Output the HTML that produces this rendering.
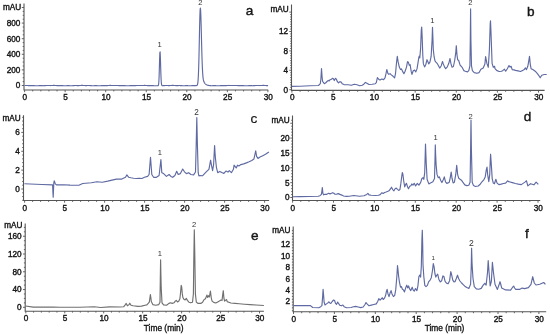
<!DOCTYPE html>
<html><head><meta charset="utf-8"><style>
html,body{margin:0;padding:0;background:#fff;}
svg{display:block;}
text{font-family:"Liberation Sans", sans-serif;fill:#151515;stroke:#151515;stroke-width:0.38px;}
text.L{stroke-width:0.4px;}
text.T{stroke-width:0.35px;}
text.P{fill:#333;stroke:none;}
svg{will-change:transform;}
</style></head><body>
<svg width="550" height="335" viewBox="0 0 550 335">
<rect width="550" height="335" fill="#fff"/>
<path d="M24 3.5V90H268.2" fill="none" stroke="#555" stroke-width="1.1"/>
<path d="M21.8 85.5h2.2M22.7 81.6h1.3M22.7 77.7h1.3M22.7 73.8h1.3M21.8 69.9h2.2M22.7 66h1.3M22.7 62.1h1.3M22.7 58.2h1.3M21.8 54.3h2.2M22.7 50.4h1.3M22.7 46.5h1.3M22.7 42.6h1.3M21.8 38.7h2.2M22.7 34.8h1.3M22.7 30.9h1.3M22.7 27h1.3M21.8 23.1h2.2M22.7 19.2h1.3M22.7 15.3h1.3M22.7 11.4h1.3M21.8 7.5h2.2M24.6 90v2.2M32.71 90v1.4M40.82 90v1.4M48.93 90v1.4M57.04 90v1.4M65.15 90v2.2M73.26 90v1.4M81.37 90v1.4M89.48 90v1.4M97.59 90v1.4M105.7 90v2.2M113.81 90v1.4M121.92 90v1.4M130.03 90v1.4M138.14 90v1.4M146.25 90v2.2M154.36 90v1.4M162.47 90v1.4M170.58 90v1.4M178.69 90v1.4M186.8 90v2.2M194.91 90v1.4M203.02 90v1.4M211.13 90v1.4M219.24 90v1.4M227.35 90v2.2M235.46 90v1.4M243.57 90v1.4M251.68 90v1.4M259.79 90v1.4M267.9 90v2.2" stroke="#555" stroke-width="0.9" fill="none"/>
<text x="20.4" y="88.4" text-anchor="end" font-size="8.2">0</text>
<text x="20.4" y="72.8" text-anchor="end" font-size="8.2">200</text>
<text x="20.4" y="57.2" text-anchor="end" font-size="8.2">400</text>
<text x="20.4" y="41.6" text-anchor="end" font-size="8.2">600</text>
<text x="20.4" y="26" text-anchor="end" font-size="8.2">800</text>
<text x="21.2" y="10.3" text-anchor="end" font-size="8.2">mAU</text>
<text x="24.9" y="100.2" text-anchor="middle" font-size="8.2">0</text>
<text x="65.45" y="100.2" text-anchor="middle" font-size="8.2">5</text>
<text x="106" y="100.2" text-anchor="middle" font-size="8.2">10</text>
<text x="146.55" y="100.2" text-anchor="middle" font-size="8.2">15</text>
<text x="187.1" y="100.2" text-anchor="middle" font-size="8.2">20</text>
<text x="227.65" y="100.2" text-anchor="middle" font-size="8.2">25</text>
<text x="268.2" y="100.2" text-anchor="middle" font-size="8.2">30</text>
<text x="249.5" y="14.7" text-anchor="middle" font-size="13.6" class="L" style="stroke-width:0.4px">a</text>
<text x="159.6" y="47.04" text-anchor="middle" font-size="7.6" class="P">1</text>
<text x="200.3" y="5.04" text-anchor="middle" font-size="7.6" class="P">2</text>
<polyline points="24.6,85.48 24.85,85.47 25.1,85.46 25.35,85.46 25.6,85.45 25.85,85.45 26.1,85.45 26.35,85.46 26.6,85.47 26.85,85.48 27.1,85.49 27.35,85.51 27.6,85.53 27.85,85.55 28.1,85.56 28.35,85.58 28.6,85.6 28.85,85.62 29.1,85.63 29.35,85.64 29.6,85.65 29.85,85.66 30.1,85.66 30.35,85.66 30.6,85.66 30.85,85.65 31.1,85.65 31.35,85.64 31.6,85.63 31.85,85.62 32.1,85.62 32.35,85.61 32.6,85.61 32.85,85.61 33.1,85.61 33.35,85.62 33.6,85.63 33.85,85.64 34.1,85.65 34.35,85.67 34.6,85.68 34.85,85.7 35.1,85.72 35.35,85.73 35.6,85.75 35.85,85.76 36.1,85.77 36.35,85.77 36.6,85.78 36.85,85.78 37.1,85.77 37.35,85.77 37.6,85.76 37.85,85.75 38.1,85.73 38.35,85.72 38.6,85.71 38.85,85.69 39.1,85.68 39.35,85.66 39.6,85.65 39.85,85.65 40.1,85.64 40.35,85.64 40.6,85.64 40.85,85.64 41.1,85.65 41.35,85.65 41.6,85.66 41.85,85.67 42.1,85.68 42.35,85.69 42.6,85.69 42.85,85.7 43.1,85.7 43.35,85.7 43.6,85.69 43.85,85.68 44.1,85.67 44.35,85.66 44.6,85.65 44.85,85.63 45.1,85.61 45.35,85.59 45.6,85.57 45.85,85.55 46.1,85.53 46.35,85.52 46.6,85.5 46.85,85.49 47.1,85.49 47.35,85.48 47.6,85.48 47.85,85.48 48.1,85.49 48.35,85.49 48.6,85.5 48.85,85.51 49.1,85.52 49.35,85.53 49.6,85.54 49.85,85.54 50.1,85.55 50.35,85.55 50.6,85.55 50.85,85.54 51.1,85.54 51.35,85.53 51.6,85.52 51.85,85.51 52.1,85.49 52.35,85.48 52.6,85.47 52.85,85.46 53.1,85.44 53.35,85.44 53.6,85.43 53.85,85.43 54.1,85.43 54.35,85.43 54.6,85.44 54.85,85.45 55.1,85.46 55.35,85.48 55.6,85.49 55.85,85.51 56.1,85.53 56.35,85.55 56.6,85.56 56.85,85.58 57.1,85.59 57.35,85.6 57.6,85.61 57.85,85.61 58.1,85.61 58.35,85.61 58.6,85.61 58.85,85.6 59.1,85.59 59.35,85.59 59.6,85.58 59.85,85.57 60.1,85.57 60.35,85.57 60.6,85.56 60.85,85.57 61.1,85.57 61.35,85.58 61.6,85.59 61.85,85.6 62.1,85.62 62.35,85.64 62.6,85.65 62.85,85.67 63.1,85.69 63.35,85.71 63.6,85.72 63.85,85.74 64.1,85.75 64.35,85.76 64.6,85.76 64.85,85.76 65.1,85.76 65.35,85.76 65.6,85.75 65.85,85.74 66.1,85.73 66.35,85.72 66.6,85.7 66.85,85.69 67.1,85.68 67.35,85.67 67.6,85.67 67.85,85.66 68.1,85.66 68.35,85.66 68.6,85.66 68.85,85.67 69.1,85.68 69.35,85.68 69.6,85.7 69.85,85.71 70.1,85.72 70.35,85.72 70.6,85.73 70.85,85.74 71.1,85.74 71.35,85.74 71.6,85.73 71.85,85.73 72.1,85.72 72.35,85.7 72.6,85.69 72.85,85.67 73.1,85.65 73.35,85.63 73.6,85.61 73.85,85.6 74.1,85.58 74.35,85.56 74.6,85.55 74.85,85.54 75.1,85.53 75.35,85.53 75.6,85.53 75.85,85.53 76.1,85.53 76.35,85.54 76.6,85.55 76.85,85.55 77.1,85.56 77.35,85.57 77.6,85.57 77.85,85.58 78.1,85.58 78.35,85.58 78.6,85.57 78.85,85.57 79.1,85.56 79.35,85.55 79.6,85.53 79.85,85.52 80.1,85.5 80.35,85.49 80.6,85.47 80.85,85.46 81.1,85.44 81.35,85.43 81.6,85.43 81.85,85.42 82.1,85.42 82.35,85.42 82.6,85.43 82.85,85.44 83.1,85.45 83.35,85.46 83.6,85.48 83.85,85.49 84.1,85.51 84.35,85.52 84.6,85.53 84.85,85.55 85.1,85.56 85.35,85.56 85.6,85.57 85.85,85.57 86.1,85.57 86.35,85.57 86.6,85.56 86.85,85.55 87.1,85.55 87.35,85.54 87.6,85.53 87.85,85.52 88.1,85.52 88.35,85.52 88.6,85.52 88.85,85.52 89.1,85.52 89.35,85.53 89.6,85.54 89.85,85.56 90.1,85.58 90.35,85.59 90.6,85.61 90.85,85.63 91.1,85.65 91.35,85.67 91.6,85.69 91.85,85.7 92.1,85.71 92.35,85.72 92.6,85.73 92.85,85.73 93.1,85.73 93.35,85.73 93.6,85.72 93.85,85.71 94.1,85.7 94.35,85.69 94.6,85.68 94.85,85.67 95.1,85.67 95.35,85.66 95.6,85.66 95.85,85.66 96.1,85.66 96.35,85.66 96.6,85.67 96.85,85.68 97.1,85.69 97.35,85.7 97.6,85.71 97.85,85.73 98.1,85.74 98.35,85.75 98.6,85.76 98.85,85.76 99.1,85.77 99.35,85.77 99.6,85.77 99.85,85.76 100.1,85.75 100.35,85.74 100.6,85.72 100.85,85.71 101.1,85.69 101.35,85.67 101.6,85.65 101.85,85.64 102.1,85.62 102.35,85.61 102.6,85.6 102.85,85.59 103.1,85.58 103.35,85.58 103.6,85.58 103.85,85.58 104.1,85.58 104.35,85.59 104.6,85.6 104.85,85.6 105.1,85.61 105.35,85.62 105.6,85.62 105.85,85.62 106.1,85.62 106.35,85.62 106.6,85.61 106.85,85.6 107.1,85.59 107.35,85.58 107.6,85.56 107.85,85.55 108.1,85.53 108.35,85.51 108.6,85.49 108.85,85.48 109.1,85.46 109.35,85.45 109.6,85.44 109.85,85.43 110.1,85.43 110.35,85.43 110.6,85.44 110.85,85.44 111.1,85.45 111.35,85.46 111.6,85.48 111.85,85.49 112.1,85.5 112.35,85.51 112.6,85.52 112.85,85.53 113.1,85.54 113.35,85.54 113.6,85.54 113.85,85.54 114.1,85.54 114.35,85.53 114.6,85.53 114.85,85.52 115.1,85.51 115.35,85.5 115.6,85.49 115.85,85.48 116.1,85.47 116.35,85.47 116.6,85.47 116.85,85.47 117.1,85.48 117.35,85.49 117.6,85.5 117.85,85.51 118.1,85.53 118.35,85.55 118.6,85.57 118.85,85.59 119.1,85.61 119.35,85.63 119.6,85.64 119.85,85.66 120.1,85.67 120.35,85.68 120.6,85.68 120.85,85.68 121.1,85.68 121.35,85.68 121.6,85.68 121.85,85.67 122.1,85.66 122.35,85.65 122.6,85.65 122.85,85.64 123.1,85.63 123.35,85.63 123.6,85.63 123.85,85.63 124.1,85.64 124.35,85.64 124.6,85.65 124.85,85.67 125.1,85.68 125.35,85.69 125.6,85.71 125.85,85.73 126.1,85.74 126.35,85.75 126.6,85.76 126.85,85.77 127.1,85.78 127.35,85.78 127.6,85.78 127.85,85.77 128.1,85.77 128.35,85.76 128.6,85.74 128.85,85.73 129.1,85.71 129.35,85.7 129.6,85.68 129.85,85.67 130.1,85.65 130.35,85.64 130.6,85.63 130.85,85.63 131.1,85.62 131.35,85.62 131.6,85.62 131.85,85.63 132.1,85.63 132.35,85.64 132.6,85.65 132.85,85.66 133.1,85.66 133.35,85.67 133.6,85.67 133.85,85.67 134.1,85.67 134.35,85.67 134.6,85.66 134.85,85.65 135.1,85.64 135.35,85.62 135.6,85.6 135.85,85.59 136.1,85.57 136.35,85.55 136.6,85.53 136.85,85.51 137.1,85.49 137.35,85.48 137.6,85.47 137.85,85.47 138.1,85.46 138.35,85.46 138.6,85.46 138.85,85.47 139.1,85.48 139.35,85.48 139.6,85.49 139.85,85.51 140.1,85.52 140.35,85.52 140.6,85.53 140.85,85.54 141.1,85.54 141.35,85.54 141.6,85.54 141.85,85.53 142.1,85.53 142.35,85.52 142.6,85.51 142.85,85.5 143.1,85.48 143.35,85.47 143.6,85.46 143.85,85.45 144.1,85.44 144.35,85.44 144.6,85.44 144.85,85.44 145.1,85.44 145.35,85.45 145.6,85.46 145.85,85.48 146.1,85.49 146.35,85.51 146.6,85.53 146.85,85.55 147.1,85.57 147.35,85.58 147.6,85.6 147.85,85.61 148.1,85.62 148.35,85.63 148.6,85.63 148.85,85.64 149.1,85.63 149.35,85.63 149.6,85.63 149.85,85.62 150.1,85.61 150.35,85.61 150.6,85.6 150.85,85.59 151.1,85.59 151.35,85.59 151.6,85.59 151.85,85.59 152.1,85.6 152.35,85.61 152.6,85.62 152.85,85.64 153.1,85.65 153.35,85.67 153.6,85.69 153.85,85.71 154.1,85.72 154.35,85.74 154.6,85.75 154.85,85.76 155.1,85.77 155.35,85.77 155.6,85.77 155.85,85.77 156.1,85.76 156.35,85.76 156.6,85.74 156.85,85.73 157.1,85.72 157.35,85.71 157.6,85.69 157.85,85.66 158.1,85.58 158.35,85.28 158.6,84.31 158.85,81.8 159.1,76.66 159.35,68.59 159.6,59.33 159.85,52.62 160.1,51.85 160.35,56.75 160.6,64.89 160.85,73.12 161.1,79.32 161.35,82.98 161.6,84.74 161.85,85.42 162.1,85.64 162.35,85.7 162.6,85.7 162.85,85.69 163.1,85.68 163.35,85.67 163.6,85.65 163.85,85.63 164.1,85.61 164.35,85.59 164.6,85.57 164.85,85.55 165.1,85.54 165.35,85.53 165.6,85.52 165.85,85.51 166.1,85.5 166.35,85.5 166.6,85.5 166.85,85.51 167.1,85.52 167.35,85.52 167.6,85.53 167.85,85.54 168.1,85.55 168.35,85.55 168.6,85.56 168.85,85.56 169.1,85.56 169.35,85.56 169.6,85.55 169.85,85.55 170.1,85.53 170.35,85.52 170.6,85.51 170.85,85.49 171.1,85.48 171.35,85.46 171.6,85.45 171.85,85.44 172.1,85.43 172.35,85.42 172.6,85.42 172.85,85.42 173.1,85.43 173.35,85.43 173.6,85.44 173.85,85.45 174.1,85.47 174.35,85.48 174.6,85.5 174.85,85.52 175.1,85.53 175.35,85.55 175.6,85.56 175.85,85.57 176.1,85.58 176.35,85.59 176.6,85.59 176.85,85.59 177.1,85.59 177.35,85.58 177.6,85.58 177.85,85.57 178.1,85.56 178.35,85.55 178.6,85.55 178.85,85.54 179.1,85.54 179.35,85.54 179.6,85.54 179.85,85.55 180.1,85.56 180.35,85.57 180.6,85.58 180.85,85.6 181.1,85.62 181.35,85.64 181.6,85.66 181.85,85.67 182.1,85.69 182.35,85.71 182.6,85.72 182.85,85.73 183.1,85.74 183.35,85.75 183.6,85.75 183.85,85.75 184.1,85.74 184.35,85.74 184.6,85.73 184.85,85.72 185.1,85.71 185.35,85.69 185.6,85.68 185.85,85.68 186.1,85.67 186.35,85.66 186.6,85.66 186.85,85.66 187.1,85.66 187.35,85.67 187.6,85.68 187.85,85.69 188.1,85.7 188.35,85.71 188.6,85.72 188.85,85.73 189.1,85.74 189.35,85.75 189.6,85.75 189.85,85.76 190.1,85.75 190.35,85.75 190.6,85.74 190.85,85.73 191.1,85.72 191.35,85.71 191.6,85.69 191.85,85.67 192.1,85.65 192.35,85.63 192.6,85.61 192.85,85.6 193.1,85.58 193.35,85.57 193.6,85.56 193.85,85.56 194.1,85.55 194.35,85.55 194.6,85.55 194.85,85.56 195.1,85.56 195.35,85.57 195.6,85.58 195.85,85.58 196.1,85.58 196.35,85.57 196.6,85.54 196.85,85.45 197.1,85.27 197.35,84.87 197.6,84.09 197.85,82.62 198.1,80.08 198.35,75.97 198.6,69.84 198.85,61.43 199.1,50.9 199.35,39 199.6,27.08 199.85,16.87 200.1,10.12 200.35,8.01 200.6,10.1 200.85,15.63 201.1,23.79 201.35,33.47 201.6,43.45 201.85,52.77 202.1,60.8 202.35,67.26 202.6,72.15 202.85,75.66 203.1,78.08 203.35,79.71 203.6,80.81 203.85,81.58 204.1,82.14 204.35,82.59 204.6,82.97 204.85,83.3 205.1,83.59 205.35,83.86 205.6,84.1 205.85,84.31 206.1,84.5 206.35,84.66 206.6,84.81 206.85,84.93 207.1,85.03 207.35,85.13 207.6,85.2 207.85,85.27 208.1,85.33 208.35,85.39 208.6,85.43 208.85,85.48 209.1,85.51 209.35,85.55 209.6,85.58 209.85,85.61 210.1,85.63 210.35,85.65 210.6,85.67 210.85,85.69 211.1,85.7 211.35,85.7 211.6,85.71 211.85,85.71 212.1,85.7 212.35,85.7 212.6,85.69 212.85,85.68 213.1,85.67 213.35,85.67 213.6,85.66 213.85,85.65 214.1,85.65 214.35,85.65 214.6,85.65 214.85,85.65 215.1,85.66 215.35,85.66 215.6,85.68 215.85,85.69 216.1,85.7 216.35,85.72 216.6,85.73 216.85,85.74 217.1,85.75 217.35,85.76 217.6,85.77 217.85,85.78 218.1,85.78 218.35,85.77 218.6,85.77 218.85,85.76 219.1,85.75 219.35,85.73 219.6,85.72 219.85,85.7 220.1,85.68 220.35,85.67 220.6,85.65 220.85,85.64 221.1,85.62 221.35,85.61 221.6,85.61 221.85,85.6 222.1,85.6 222.35,85.6 222.6,85.6 222.85,85.61 223.1,85.62 223.35,85.62 223.6,85.63 223.85,85.64 224.1,85.64 224.35,85.65 224.6,85.65 224.85,85.65 225.1,85.64 225.35,85.64 225.6,85.63 225.85,85.61 226.1,85.6 226.35,85.58 226.6,85.56 226.85,85.54 227.1,85.52 227.35,85.51 227.6,85.49 227.85,85.47 228.1,85.46 228.35,85.45 228.6,85.45 228.85,85.44 229.1,85.44 229.35,85.45 229.6,85.45 229.85,85.46 230.1,85.47 230.35,85.48 230.6,85.5 230.85,85.51 231.1,85.52 231.35,85.53 231.6,85.53 231.85,85.54 232.1,85.54 232.35,85.54 232.6,85.54 232.85,85.53 233.1,85.52 233.35,85.51 233.6,85.5 233.85,85.49 234.1,85.48 234.35,85.47 234.6,85.46 234.85,85.46 235.1,85.45 235.35,85.45 235.6,85.45 235.85,85.46 236.1,85.47 236.35,85.48 236.6,85.5 236.85,85.51 237.1,85.53 237.35,85.55 237.6,85.57 237.85,85.59 238.1,85.61 238.35,85.62 238.6,85.63 238.85,85.65 239.1,85.65 239.35,85.66 239.6,85.66 239.85,85.66 240.1,85.66 240.35,85.65 240.6,85.64 240.85,85.64 241.1,85.63 241.35,85.62 241.6,85.62 241.85,85.61 242.1,85.61 242.35,85.61 242.6,85.62 242.85,85.62 243.1,85.63 243.35,85.64 243.6,85.66 243.85,85.67 244.1,85.69 244.35,85.7 244.6,85.72 244.85,85.74 245.1,85.75 245.35,85.76 245.6,85.77 245.85,85.78 246.1,85.78 246.35,85.78 246.6,85.77 246.85,85.77 247.1,85.76 247.35,85.74 247.6,85.73 247.85,85.72 248.1,85.7 248.35,85.69 248.6,85.67 248.85,85.66 249.1,85.65 249.35,85.65 249.6,85.64 249.85,85.64 250.1,85.64 250.35,85.64 250.6,85.65 250.85,85.65 251.1,85.66 251.35,85.67 251.6,85.68 251.85,85.69 252.1,85.69 252.35,85.7 252.6,85.7 252.85,85.7 253.1,85.69 253.35,85.68 253.6,85.67 253.85,85.66 254.1,85.64 254.35,85.62 254.6,85.6 254.85,85.58 255.1,85.57 255.35,85.55 255.6,85.53 255.85,85.51 256.1,85.5 256.35,85.49 256.6,85.48 256.85,85.48 257.1,85.48 257.35,85.48 257.6,85.49 257.85,85.49 258.1,85.5 258.35,85.51 258.6,85.52 258.85,85.53 259.1,85.54 259.35,85.54 259.6,85.55 259.85,85.55 260.1,85.55 260.35,85.54 260.6,85.54 260.85,85.53 261.1,85.52 261.35,85.5 261.6,85.49 261.85,85.48 262.1,85.46 262.35,85.45 262.6,85.44 262.85,85.43 263.1,85.43 263.35,85.43 263.6,85.43 263.85,85.43 264.1,85.44 264.35,85.45 264.6,85.47 264.85,85.48 265.1,85.5 265.35,85.52 265.6,85.53 265.85,85.55 266.1,85.57 266.35,85.58 266.6,85.59 266.85,85.6 267.1,85.61 267.35,85.61 267.6,85.61 267.85,85.61 268.1,85.61" fill="none" stroke="#5f6aa2" stroke-width="1.15" stroke-linejoin="round"/>
<path d="M291.5 4.5V90.4H544.6" fill="none" stroke="#555" stroke-width="1.1"/>
<path d="M289.3 89.7h2.2M290.2 87.28h1.3M290.2 84.85h1.3M290.2 82.42h1.3M290.2 80h1.3M290.2 77.58h1.3M290.2 75.15h1.3M290.2 72.73h1.3M289.3 70.3h2.2M290.2 67.88h1.3M290.2 65.45h1.3M290.2 63.03h1.3M290.2 60.6h1.3M290.2 58.18h1.3M290.2 55.75h1.3M290.2 53.33h1.3M289.3 50.9h2.2M290.2 48.48h1.3M290.2 46.05h1.3M290.2 43.63h1.3M290.2 41.2h1.3M290.2 38.78h1.3M290.2 36.35h1.3M290.2 33.93h1.3M289.3 31.5h2.2M290.2 29.08h1.3M290.2 26.65h1.3M290.2 24.23h1.3M290.2 21.8h1.3M290.2 19.38h1.3M290.2 16.95h1.3M290.2 14.53h1.3M289.3 12.1h2.2M291.9 90.4v2.2M300.12 90.4v1.4M308.34 90.4v1.4M316.56 90.4v1.4M324.78 90.4v1.4M333 90.4v2.2M341.22 90.4v1.4M349.44 90.4v1.4M357.66 90.4v1.4M365.88 90.4v1.4M374.1 90.4v2.2M382.32 90.4v1.4M390.54 90.4v1.4M398.76 90.4v1.4M406.98 90.4v1.4M415.2 90.4v2.2M423.42 90.4v1.4M431.64 90.4v1.4M439.86 90.4v1.4M448.08 90.4v1.4M456.3 90.4v2.2M464.52 90.4v1.4M472.74 90.4v1.4M480.96 90.4v1.4M489.18 90.4v1.4M497.4 90.4v2.2M505.62 90.4v1.4M513.84 90.4v1.4M522.06 90.4v1.4M530.28 90.4v1.4M538.5 90.4v2.2" stroke="#555" stroke-width="0.9" fill="none"/>
<text x="288.1" y="92.6" text-anchor="end" font-size="8.2">0</text>
<text x="288.1" y="73.2" text-anchor="end" font-size="8.2">4</text>
<text x="288.1" y="53.8" text-anchor="end" font-size="8.2">8</text>
<text x="288.1" y="34.4" text-anchor="end" font-size="8.2">12</text>
<text x="288.7" y="11.8" text-anchor="end" font-size="8.2">mAU</text>
<text x="292.2" y="100.4" text-anchor="middle" font-size="8.2">0</text>
<text x="333.3" y="100.4" text-anchor="middle" font-size="8.2">5</text>
<text x="374.4" y="100.4" text-anchor="middle" font-size="8.2">10</text>
<text x="415.5" y="100.4" text-anchor="middle" font-size="8.2">15</text>
<text x="456.6" y="100.4" text-anchor="middle" font-size="8.2">20</text>
<text x="497.7" y="100.4" text-anchor="middle" font-size="8.2">25</text>
<text x="538.8" y="100.4" text-anchor="middle" font-size="8.2">30</text>
<text x="530.8" y="16.2" text-anchor="middle" font-size="13.6" class="L" style="stroke-width:0.4px">b</text>
<text x="432.3" y="23.04" text-anchor="middle" font-size="7.6" class="P">1</text>
<text x="470.4" y="5.24" text-anchor="middle" font-size="7.6" class="P">2</text>
<polyline points="291.8,86.4 300,86.2 310,85.8 318.5,85.5 320.3,83.7 320.9,79 321.5,68.5 322.1,77 322.6,81.5 323.2,82.2 324.3,83.7 325.5,83 327,81.5 328.3,80.4 329.2,81 330.1,79.7 331.5,79.2 332.6,78.3 333.4,78.8 334.3,80.6 335.5,78.3 336.4,79.2 337.3,81.5 338.6,82.8 339.5,81.9 340.9,81.9 342.2,83.7 344,84.6 348.1,84.8 351.3,85.3 354.4,84.2 357,84.8 359.6,85.8 362.2,85.3 363.8,84.2 365.4,82.4 366.9,83.2 369,84.5 372.2,84.2 375.3,83.7 376.3,82.7 377.4,77.5 378.4,79 380,80.1 381.8,79 383.6,79.6 385,77.8 386,73.7 386.8,69.5 387.8,73.1 388.6,74.3 390.1,73.7 391.3,74.9 393.1,76.3 394.6,77.8 395.5,73.7 396.5,62.9 397.3,56.3 398.1,61.7 399.3,67.1 400.5,69.5 401.5,68.9 402.9,71.9 403.9,73.7 405.1,71.3 406.5,67.1 407.5,61.7 408.4,62.3 409.3,65.3 410.1,64.7 411.3,71.9 412,74.3 413.2,70.7 414.6,70.1 415.8,71.9 417,68.9 418,62.9 418.8,57.5 419.4,56 419.8,57.9 420.6,48.4 421.3,30 421.7,27 422.2,38 422.8,55.5 423.4,63.9 424.6,66.9 425.8,64.5 427,59.7 427.8,61.5 428.7,63.9 429.9,62.1 431.1,56.7 432.1,40 432.5,27.3 432.9,38 433.3,49.6 434.1,56.7 435,60.9 435.9,62.1 437.1,63.3 438.5,65.7 439.7,68.1 441.3,65.7 442.5,61.5 443.3,63.9 444.5,66.9 445.7,68.7 447.3,66.9 448.8,63.3 450,58.5 451,63.9 452,67.2 453.4,66.5 454.7,60.5 455.8,52.4 456.3,45.7 457,55.1 457.7,59.8 458.7,60.5 460.1,65.2 461.4,66.5 462.5,67.9 463.8,70.6 465.4,71.2 467.5,71.9 468.8,70.6 469.9,65.9 470.3,40 470.6,8.9 470.9,40 471.5,65.9 472.4,70.6 474.2,72.6 476.9,73.3 479.1,72.6 480.9,69.2 483.2,67.9 484.9,64 485.6,56.6 486.9,63.4 488.3,67.3 489.4,49.8 490.2,24 490.5,20.8 490.9,30 491.4,44 492.1,63.4 493.3,67.3 494.6,66.3 495,68.7 496.6,70.4 499.1,71.5 501.6,71.2 502.9,70.4 504.5,69.2 505.7,71.2 507.3,68.7 509,65.5 510.1,67.1 511.1,66.3 512.2,69.6 513.9,69.9 515.5,70.4 518,70.9 520.5,71.5 522.6,70.4 524.2,69.6 525.4,67.9 526.5,69.6 527.8,66.3 528.7,61.3 529.5,56.4 530.3,64.6 531.1,68.7 532.8,69.6 535.2,71.2 537.4,73.7 539,75.8 540.2,77.8 541.8,75.3 544.3,74.5 546.7,74.5" fill="none" stroke="#5f6aa2" stroke-width="1.15" stroke-linejoin="round"/>
<path d="M23.5 115.2V200.5H269.1" fill="none" stroke="#555" stroke-width="1.1"/>
<path d="M22.2 200.32h1.3M22.2 196.54h1.3M22.2 192.77h1.3M21.3 189h2.2M22.2 185.23h1.3M22.2 181.46h1.3M22.2 177.68h1.3M22.2 173.91h1.3M21.3 170.14h2.2M22.2 166.37h1.3M22.2 162.6h1.3M22.2 158.82h1.3M22.2 155.05h1.3M21.3 151.28h2.2M22.2 147.51h1.3M22.2 143.74h1.3M22.2 139.96h1.3M22.2 136.19h1.3M21.3 132.42h2.2M22.2 128.65h1.3M22.2 124.88h1.3M22.2 121.1h1.3M22.2 117.33h1.3M24.6 200.5v2.2M32.6 200.5v1.4M40.6 200.5v1.4M48.6 200.5v1.4M56.6 200.5v1.4M64.6 200.5v2.2M72.6 200.5v1.4M80.6 200.5v1.4M88.6 200.5v1.4M96.6 200.5v1.4M104.6 200.5v2.2M112.6 200.5v1.4M120.6 200.5v1.4M128.6 200.5v1.4M136.6 200.5v1.4M144.6 200.5v2.2M152.6 200.5v1.4M160.6 200.5v1.4M168.6 200.5v1.4M176.6 200.5v1.4M184.6 200.5v2.2M192.6 200.5v1.4M200.6 200.5v1.4M208.6 200.5v1.4M216.6 200.5v1.4M224.6 200.5v2.2M232.6 200.5v1.4M240.6 200.5v1.4M248.6 200.5v1.4M256.6 200.5v1.4M264.6 200.5v2.2" stroke="#555" stroke-width="0.9" fill="none"/>
<text x="19.9" y="191.9" text-anchor="end" font-size="8.2">0</text>
<text x="19.9" y="173.04" text-anchor="end" font-size="8.2">2</text>
<text x="19.9" y="154.18" text-anchor="end" font-size="8.2">4</text>
<text x="19.9" y="135.32" text-anchor="end" font-size="8.2">6</text>
<text x="20.7" y="121.2" text-anchor="end" font-size="8.2">mAU</text>
<text x="24.9" y="210.7" text-anchor="middle" font-size="8.2">0</text>
<text x="64.9" y="210.7" text-anchor="middle" font-size="8.2">5</text>
<text x="104.9" y="210.7" text-anchor="middle" font-size="8.2">10</text>
<text x="144.9" y="210.7" text-anchor="middle" font-size="8.2">15</text>
<text x="184.9" y="210.7" text-anchor="middle" font-size="8.2">20</text>
<text x="224.9" y="210.7" text-anchor="middle" font-size="8.2">25</text>
<text x="264.9" y="210.7" text-anchor="middle" font-size="8.2">30</text>
<text x="253.9" y="122.6" text-anchor="middle" font-size="13.6" class="L" style="stroke-width:0.2px">c</text>
<text x="159.8" y="154.74" text-anchor="middle" font-size="7.6" class="P">1</text>
<text x="196.6" y="114.95" text-anchor="middle" font-size="8.2" class="P">2</text>
<polyline points="24.4,183.8 41.8,184.5 52.6,184.9 52.9,192 53.2,197.2 53.5,190 53.8,183 54.2,180.8 55.3,183.8 56.5,184.9 63.6,184.8 70,185.1 78.9,185.2 82.7,183.5 91.4,182.7 96.9,181.8 102.3,182.2 107.8,181.1 110.9,180.4 116.4,179.1 121.8,179.1 125.5,177.3 126.9,174.9 128.7,177.3 130.9,177.8 133.6,178.2 136.4,178.5 139.1,178.2 141.8,178.5 144.5,177.3 147.6,176.4 149.1,174.5 150.5,157.3 151.8,174.5 153.6,177.3 156.4,177.3 159.1,175.5 160.9,159.5 161.8,172.7 163.6,173.6 166.4,176.4 169.1,174.5 170.9,176.4 172.7,177.3 174.9,175.5 176.7,171.3 178.2,174.5 180.4,173.6 182.7,169.1 184.5,171.8 186.4,173.6 188.7,172.7 190.9,174.5 193.6,174.9 195.5,172 196.2,145 196.8,117.6 197.4,145 198.2,172.7 198.9,175.9 200,175.5 202.7,175.7 205.5,172.7 207.5,170.7 208.9,169.3 209.8,164.6 210.6,160.2 211.6,165.9 212.6,170.7 213.6,164.6 214.1,155 214.6,145.5 215.1,154 215.4,157.7 216.4,167.3 217.7,172.7 219.8,171.4 221.8,172.5 223.9,173.4 225.9,171.1 228,172.1 229.3,170.7 231.4,172.7 233.4,169.3 234.1,165.2 235.2,166.6 236.2,168 237.5,165.2 238.9,165.9 240.9,164.6 243.7,163.9 246.4,162.9 249.1,161.8 251.8,160.5 253.9,159.1 254.8,155 255.7,150.9 256.6,156.4 258,158.4 260,157.1 262.8,155.7 265.5,154.3 268.9,152" fill="none" stroke="#5f6aa2" stroke-width="1.15" stroke-linejoin="round"/>
<path d="M292.5 115.4V200.5H540.2" fill="none" stroke="#555" stroke-width="1.1"/>
<path d="M290.3 197.5h2.2M291.2 194.53h1.3M291.2 191.56h1.3M291.2 188.59h1.3M291.2 185.62h1.3M290.3 182.65h2.2M291.2 179.68h1.3M291.2 176.71h1.3M291.2 173.74h1.3M291.2 170.77h1.3M290.3 167.8h2.2M291.2 164.83h1.3M291.2 161.86h1.3M291.2 158.89h1.3M291.2 155.92h1.3M290.3 152.95h2.2M291.2 149.98h1.3M291.2 147.01h1.3M291.2 144.04h1.3M291.2 141.07h1.3M290.3 138.1h2.2M291.2 135.13h1.3M291.2 132.16h1.3M291.2 129.19h1.3M291.2 126.22h1.3M290.3 123.25h2.2M291.2 120.28h1.3M292.6 200.5v2.2M300.78 200.5v1.4M308.96 200.5v1.4M317.14 200.5v1.4M325.32 200.5v1.4M333.5 200.5v2.2M341.68 200.5v1.4M349.86 200.5v1.4M358.04 200.5v1.4M366.22 200.5v1.4M374.4 200.5v2.2M382.58 200.5v1.4M390.76 200.5v1.4M398.94 200.5v1.4M407.12 200.5v1.4M415.3 200.5v2.2M423.48 200.5v1.4M431.66 200.5v1.4M439.84 200.5v1.4M448.02 200.5v1.4M456.2 200.5v2.2M464.38 200.5v1.4M472.56 200.5v1.4M480.74 200.5v1.4M488.92 200.5v1.4M497.1 200.5v2.2M505.28 200.5v1.4M513.46 200.5v1.4M521.64 200.5v1.4M529.82 200.5v1.4M538 200.5v2.2" stroke="#555" stroke-width="0.9" fill="none"/>
<text x="289.5" y="200.4" text-anchor="end" font-size="8.2">0</text>
<text x="289.5" y="185.55" text-anchor="end" font-size="8.2">5</text>
<text x="289.5" y="170.7" text-anchor="end" font-size="8.2">10</text>
<text x="289.5" y="155.85" text-anchor="end" font-size="8.2">15</text>
<text x="289.5" y="141" text-anchor="end" font-size="8.2">20</text>
<text x="289.7" y="123.2" text-anchor="end" font-size="8.2">mAU</text>
<text x="292.9" y="210.5" text-anchor="middle" font-size="8.2">0</text>
<text x="333.8" y="210.5" text-anchor="middle" font-size="8.2">5</text>
<text x="374.7" y="210.5" text-anchor="middle" font-size="8.2">10</text>
<text x="415.6" y="210.5" text-anchor="middle" font-size="8.2">15</text>
<text x="456.5" y="210.5" text-anchor="middle" font-size="8.2">20</text>
<text x="497.4" y="210.5" text-anchor="middle" font-size="8.2">25</text>
<text x="538.3" y="210.5" text-anchor="middle" font-size="8.2">30</text>
<text x="527.5" y="121" text-anchor="middle" font-size="13.6" class="L" style="stroke-width:0.4px">d</text>
<text x="435.5" y="139.94" text-anchor="middle" font-size="7.6" class="P">1</text>
<text x="470.5" y="118.64" text-anchor="middle" font-size="7.6" class="P">2</text>
<polyline points="292.6,196.7 300,196.6 318.2,196.2 320,195.7 321.4,194.4 321.9,191 322.3,187.5 322.7,191 322.9,193.5 323.8,194.8 325,194.2 326.4,194.4 327.3,193.9 328.6,193.3 330,193.9 331.4,193.3 332.7,192.7 333.8,193.3 335,194.2 336.4,194.2 338.2,193.6 340,194.4 341.8,195.1 343.6,196 346.4,196.4 349.4,196.2 353.7,195.5 359.5,196.2 363.9,195.8 366.8,194.4 367.9,193.4 369,194.9 371.2,195.3 375.5,195.5 378.4,195.2 380.2,194.6 381.7,192.8 383.2,193.4 384.6,192.5 386.1,192 387.9,191.3 389.4,190.4 390.6,188.7 391.5,187.2 392.7,189.6 393.9,190.8 395.1,188.7 396.3,188.1 397.5,189.3 398.7,190.4 399.9,189.6 400.8,183.9 401.7,176.7 402.3,172.5 402.9,174.3 403.7,180.9 404.7,186.9 405.6,184.5 406.4,183.3 407.6,186.9 408.5,188.7 409.7,186.3 410.9,185.7 411.8,183.9 413,185.1 414.2,183.3 415.6,185.9 417.3,183.4 418.9,185.1 420.6,182.6 421.9,178.5 423,177.7 423.8,179.3 424.7,172.8 425.2,155 425.5,144.1 425.9,155 426.3,164.6 427.1,179.3 428.8,183.9 430.4,183 432.9,181.8 434.5,178.5 435,160 435.3,144.9 435.7,156 436.1,164.6 437,174.4 438.3,177.7 439.4,176.9 440.6,180.2 441.9,182.6 443.5,179.3 444.3,176.9 445.5,181.8 446.8,183.4 448,182.9 449.3,182.2 450.4,176.8 451.2,172.1 452,178.2 453.1,182.9 454.4,182.2 455.8,174.2 456.7,165.4 457.7,174.8 458.7,178.2 460.1,179.3 461.4,180.2 462.8,182.2 464.8,184.9 466.8,185.6 468.8,185.2 470.1,182.2 470.6,150 471,120 471.4,150 472.2,182.2 473.5,185.6 475.5,186.5 478.2,186 480.2,184.2 482.2,181.5 483.6,180.2 485.2,177.1 486.2,170.4 487,167.1 487.7,174.9 488.8,181.6 489.7,174.9 490.2,162 490.6,154.2 491,160 491.5,167.4 492.2,178.6 493.3,183.1 494.4,183.8 495.9,179.3 497.1,183.1 498.9,184.6 501.2,184.1 503.4,183.5 505.6,183.1 507.6,180.8 508.6,181.6 510.1,182 512.4,182.6 515.3,183.5 518.3,184.1 521.3,184.6 524.9,182.1 526.5,180.8 527.8,185.9 530.5,183.7 533.9,184.8 536.1,182.1 538.3,184.4" fill="none" stroke="#5f6aa2" stroke-width="1.15" stroke-linejoin="round"/>
<path d="M25.2 223.6V311.2H263.9" fill="none" stroke="#555" stroke-width="1.1"/>
<path d="M23 307.3h2.2M23.9 302.86h1.3M23.9 298.42h1.3M23.9 293.98h1.3M23 289.54h2.2M23.9 285.1h1.3M23.9 280.66h1.3M23.9 276.22h1.3M23 271.78h2.2M23.9 267.34h1.3M23.9 262.9h1.3M23.9 258.46h1.3M23 254.02h2.2M23.9 249.58h1.3M23.9 245.14h1.3M23.9 240.7h1.3M23 236.26h2.2M23.9 231.82h1.3M23.9 227.38h1.3M25.8 311.2v2.2M33.59 311.2v1.4M41.38 311.2v1.4M49.17 311.2v1.4M56.96 311.2v1.4M64.75 311.2v2.2M72.54 311.2v1.4M80.33 311.2v1.4M88.12 311.2v1.4M95.91 311.2v1.4M103.7 311.2v2.2M111.49 311.2v1.4M119.28 311.2v1.4M127.07 311.2v1.4M134.86 311.2v1.4M142.65 311.2v2.2M150.44 311.2v1.4M158.23 311.2v1.4M166.02 311.2v1.4M173.81 311.2v1.4M181.6 311.2v2.2M189.39 311.2v1.4M197.18 311.2v1.4M204.97 311.2v1.4M212.76 311.2v1.4M220.55 311.2v2.2M228.34 311.2v1.4M236.13 311.2v1.4M243.92 311.2v1.4M251.71 311.2v1.4M259.5 311.2v2.2" stroke="#555" stroke-width="0.9" fill="none"/>
<text x="21.6" y="310.2" text-anchor="end" font-size="8.2">0</text>
<text x="21.6" y="292.44" text-anchor="end" font-size="8.2">40</text>
<text x="21.6" y="274.68" text-anchor="end" font-size="8.2">80</text>
<text x="21.6" y="256.92" text-anchor="end" font-size="8.2">120</text>
<text x="21.6" y="239.16" text-anchor="end" font-size="8.2">160</text>
<text x="22.4" y="228" text-anchor="end" font-size="8.2">mAU</text>
<text x="26.1" y="320.7" text-anchor="middle" font-size="8.2">0</text>
<text x="65.05" y="320.7" text-anchor="middle" font-size="8.2">5</text>
<text x="104" y="320.7" text-anchor="middle" font-size="8.2">10</text>
<text x="142.95" y="320.7" text-anchor="middle" font-size="8.2">15</text>
<text x="181.9" y="320.7" text-anchor="middle" font-size="8.2">20</text>
<text x="220.85" y="320.7" text-anchor="middle" font-size="8.2">25</text>
<text x="259.8" y="320.7" text-anchor="middle" font-size="8.2">30</text>
<text x="254.7" y="240.2" text-anchor="middle" font-size="13.6" class="L" style="stroke-width:0.4px">e</text>
<text x="159.9" y="255.54" text-anchor="middle" font-size="7.6" class="P">1</text>
<text x="194.2" y="227.14" text-anchor="middle" font-size="7.6" class="P">2</text>
<text x="163.6" y="331.3" text-anchor="middle" font-size="8.4" class="T">Time (min)</text>
<polyline points="25.5,306 33.1,307.1 52.7,307.1 60,307.3 80,307.2 94.2,306.7 100.7,307.5 109.5,306.9 120,307 123.6,306.8 125.4,304.6 126.2,303.4 127.4,305.8 129,304.6 129.8,303.2 131,305.2 133.1,305.8 137.9,306.4 141.5,306.1 145.1,305.2 146.9,304.9 149.3,302.2 149.9,298 150.4,294.5 150.9,298 151.3,301.6 152.8,304.6 155.8,305.2 158.8,304.6 160,302.2 160.3,280 160.6,259.8 160.9,275 161.2,287.9 162,302.8 163.6,304.9 166.6,305.2 168.6,303.6 170.4,302.8 172.2,303.4 174,302.8 175.1,301.3 176.3,300.4 177.5,302 178.7,301.3 179.9,298.7 180.5,293.3 181.2,285.3 181.7,287 182.3,293.9 182.9,297.5 183.9,299.3 185.1,299.9 186.3,298.4 187.4,300.4 188.9,302.2 190.7,302.8 192.5,302.2 193.4,293.9 193.8,260 194.3,229.8 194.8,255 195.4,293.9 196.3,302 197.8,303.4 200.8,303.4 202.6,302.2 203.8,299.9 205.4,298.7 206.2,296.9 207,295.1 207.7,297.5 208.6,295.7 209.4,296.9 210.4,291 211.3,298.1 212.1,301.1 213.7,302.4 215.7,303 217.3,302.2 219.4,301.1 221,300.1 222,300.6 222.7,294.8 223.3,290.7 223.9,298 224.6,301.1 225.7,300.1 226.5,299.5 227.2,301.6 228.8,302.2 230.9,303 235.1,303.4 239.2,303.7 244.5,304.2 250,304.6 256,305 263.9,305.5" fill="none" stroke="#707070" stroke-width="1.15" stroke-linejoin="round"/>
<path d="M293.2 226.6V311.8H546.2" fill="none" stroke="#555" stroke-width="1.1"/>
<path d="M291.9 310.71h1.3M291.9 307.85h1.3M291.9 304.99h1.3M291.9 302.13h1.3M291.9 299.27h1.3M291.9 296.41h1.3M291.9 293.55h1.3M291.9 290.69h1.3M291.9 287.83h1.3M291.9 284.97h1.3M291.9 282.11h1.3M291.9 279.25h1.3M291.9 276.39h1.3M291.9 273.53h1.3M291.9 270.67h1.3M291.9 267.81h1.3M291.9 264.95h1.3M291.9 262.09h1.3M291.9 259.23h1.3M291.9 256.37h1.3M291.9 253.51h1.3M291.9 250.65h1.3M291.9 247.79h1.3M291.9 244.93h1.3M291.9 242.07h1.3M291.9 239.21h1.3M291.9 236.35h1.3M291.9 233.49h1.3M291.9 230.63h1.3M293.5 311.8v2.2M301.68 311.8v1.4M309.86 311.8v1.4M318.04 311.8v1.4M326.22 311.8v1.4M334.4 311.8v2.2M342.58 311.8v1.4M350.76 311.8v1.4M358.94 311.8v1.4M367.12 311.8v1.4M375.3 311.8v2.2M383.48 311.8v1.4M391.66 311.8v1.4M399.84 311.8v1.4M408.02 311.8v1.4M416.2 311.8v2.2M424.38 311.8v1.4M432.56 311.8v1.4M440.74 311.8v1.4M448.92 311.8v1.4M457.1 311.8v2.2M465.28 311.8v1.4M473.46 311.8v1.4M481.64 311.8v1.4M489.82 311.8v1.4M498 311.8v2.2M506.18 311.8v1.4M514.36 311.8v1.4M522.54 311.8v1.4M530.72 311.8v1.4M538.9 311.8v2.2" stroke="#555" stroke-width="0.9" fill="none"/>
<text x="290.1" y="304.46" text-anchor="end" font-size="8.2">2</text>
<text x="290.1" y="293.02" text-anchor="end" font-size="8.2">4</text>
<text x="290.1" y="281.58" text-anchor="end" font-size="8.2">6</text>
<text x="290.1" y="270.14" text-anchor="end" font-size="8.2">8</text>
<text x="290.1" y="258.7" text-anchor="end" font-size="8.2">10</text>
<text x="290.1" y="247.26" text-anchor="end" font-size="8.2">12</text>
<text x="290.4" y="232.8" text-anchor="end" font-size="8.2">mAU</text>
<text x="293.8" y="321.5" text-anchor="middle" font-size="8.2">0</text>
<text x="334.7" y="321.5" text-anchor="middle" font-size="8.2">5</text>
<text x="375.6" y="321.5" text-anchor="middle" font-size="8.2">10</text>
<text x="416.5" y="321.5" text-anchor="middle" font-size="8.2">15</text>
<text x="457.4" y="321.5" text-anchor="middle" font-size="8.2">20</text>
<text x="498.3" y="321.5" text-anchor="middle" font-size="8.2">25</text>
<text x="539.2" y="321.5" text-anchor="middle" font-size="8.2">30</text>
<text x="527" y="238" text-anchor="middle" font-size="13.6" class="L" style="stroke-width:0.4px">f</text>
<text x="433.3" y="260.23" text-anchor="middle" font-size="6.2" class="P">1</text>
<text x="471.4" y="246" text-anchor="middle" font-size="8.6" class="P">2</text>
<text x="444.5" y="331.3" text-anchor="middle" font-size="8.4" class="T">Time (min)</text>
<polyline points="293.6,305.6 300,305.6 310.5,305.6 312.7,307.5 318.8,307.7 320.7,306.7 321.9,305.6 322.6,297.2 323.1,289.3 323.6,295.3 324.1,302 325,305 326.5,303.9 327.9,302.9 328.8,301.8 329.8,302.9 330.8,303.4 332.2,301.5 333.6,300 334.6,300.5 335.5,303.4 336.5,304.3 337.7,302.1 338.7,303.7 339.8,305.3 341.3,305.8 342.9,305 344.1,306.7 346.5,307.7 351.3,307.5 352.5,307 355.6,306.4 358.2,307 360.7,307.6 363.2,307 365,304.5 366,302.6 367.3,304.1 368.8,305.7 371.3,305.1 373.8,304.5 376.3,303.9 377.8,301.3 378.8,298.6 380.1,300.1 381.3,298.8 382.4,297.8 383.2,299.5 384.5,298.2 385.7,295.1 386.4,291.5 387.1,289.4 388,293.9 389,296.6 390,293.3 391.1,290.6 392,293.9 393.4,296.6 394.7,295.3 395.7,289.9 396.9,276 397.5,265.5 398,270 398.6,276 399.4,281.8 400.5,287.2 401.4,286.5 402.4,289.2 403.4,289.9 404.5,291.9 405.9,287.2 406.8,285.2 407.7,287.9 408.6,285.9 409.5,288.6 410.8,290.6 412.2,287.2 413.1,289.9 414.2,291.2 415.5,288.6 416.9,290.6 417.9,285.9 418.9,276.5 419.8,275.1 420.6,277.1 421.3,266.9 421.9,240 422.3,230.2 422.7,245 423,264.6 423.8,276.5 424.8,285.4 426,286.6 427.4,285.4 428.6,281.9 430.1,280.1 431.3,277.7 432.5,270.5 433.3,263.6 434.1,266.9 434.9,273.5 435.8,277.1 436.7,275.3 437.7,274.1 438.9,279.5 440.3,281.9 441.7,280.7 442.9,275.9 443.9,276.5 445.1,281.3 446.5,283.1 448.1,283.7 449.6,280.7 450.8,271.7 451.6,274.7 452.8,280.1 454,281.9 455,281.8 456.3,278.5 457.5,275.2 458.6,278.5 459.9,281 461.6,283 463.2,284.6 464.8,286.2 466.8,287.5 468.9,288.4 470.6,284.3 471.2,268 471.6,248.2 472,262 472.4,269.5 473,278.5 474.3,286.7 476.3,288.9 478.8,289.2 481.2,288.4 483.2,285.1 484.8,283.4 486.1,285.1 487.5,272.8 488.2,260.5 489.1,272.8 490.2,285.9 491.4,281 492.4,262.4 493.5,272.8 495,284.3 497.4,289.4 499.3,284 500,281.7 500.7,284 501.7,288.1 505.6,289.9 510.6,290.1 512.8,287 513.7,286.1 514.6,288 515.7,289.4 519.5,289.4 522.1,288.1 524.6,288.6 528.4,287.6 531,284.3 532.7,276.7 534.3,283 536,285 539.8,284.3 543.7,282.5 545.4,284.3" fill="none" stroke="#5f6aa2" stroke-width="1.15" stroke-linejoin="round"/>
</svg>
</body></html>
